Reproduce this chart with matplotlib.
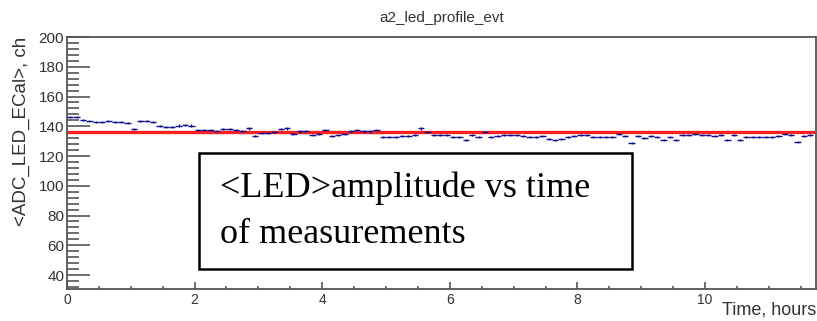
import numpy as np
import matplotlib.pyplot as plt
from matplotlib.patches import Rectangle
from matplotlib.ticker import MultipleLocator

# profile bins: 0.1 hour wide, mean LED amplitude per bin
bin_width = 0.1
led_mean = [
    146.0, 146.0, 144.0, 143.5, 143.0, 143.0, 143.5, 143.0, 143.0, 142.0,
    138.0, 143.5, 143.5, 143.0, 140.0, 139.5, 139.5, 140.5, 141.0, 140.5,
    137.5, 137.5, 137.5, 137.0, 138.0, 138.0, 137.5, 137.0, 138.5, 133.5,
    135.5, 135.5, 136.0, 138.0, 138.5, 134.5, 136.5, 137.0, 134.0, 134.5,
    137.5, 133.5, 134.0, 135.0, 136.5, 137.5, 136.5, 136.5, 137.5, 133.0,
    133.0, 133.0, 133.5, 133.5, 134.0, 138.5, 136.0, 134.0, 134.0, 134.0,
    133.0, 133.0, 131.0, 134.0, 133.0, 136.0, 133.0, 133.5, 134.0, 134.0,
    134.0, 133.5, 133.0, 133.0, 133.5, 131.5, 131.0, 131.5, 133.0, 133.5,
    134.0, 134.0, 133.0, 133.0, 133.0, 133.0, 134.5, 133.5, 129.0, 133.5,
    132.0, 133.5, 133.0, 131.0, 133.0, 131.0, 134.0, 134.0, 134.5, 134.0,
    134.0, 133.5, 134.0, 131.0, 134.0, 131.0, 133.0, 132.5, 132.5, 133.0,
    133.0, 133.5, 134.5, 134.0, 129.5, 133.5, 134.0,
]
led_err = 0.7
fit_level = 136.0
x_max = 11.74

t = (np.arange(len(led_mean)) + 0.5) * bin_width

fig = plt.figure(figsize=(8.17, 3.21), dpi=100)
ax = fig.add_axes([0.082, 0.0997, 0.9168, 0.785])

frame_col = '#555555'
for s in ax.spines.values():
    s.set_color(frame_col)
    s.set_linewidth(1.3)

ax.errorbar(t, led_mean, xerr=bin_width / 2, yerr=led_err, fmt='none',
            ecolor='#10108a', elinewidth=1.0, capsize=0, zorder=3)
ax.plot([0, t[-1] + bin_width / 2], [fit_level, fit_level], color='#ff2020', lw=2.4, zorder=2)

ax.set_xlim(0, x_max)
ax.set_ylim(30.6, 200)
ax.xaxis.set_major_locator(MultipleLocator(2))
ax.xaxis.set_minor_locator(MultipleLocator(0.5))
ax.yaxis.set_minor_locator(MultipleLocator(4))
ax.set_yticks([40, 60, 80, 100, 120, 140, 160, 180, 200])

ax.tick_params(axis='y', which='major', direction='in', length=16.5, width=1.2,
               color=frame_col, labelsize=11, labelcolor='#333333', pad=2)
ax.tick_params(axis='y', which='minor', direction='in', length=8.5, width=1.2, color=frame_col)
ax.tick_params(axis='x', which='major', direction='in', length=5, width=1.2,
               color=frame_col, labelsize=10, labelcolor='#333333', pad=3)
ax.tick_params(axis='x', which='minor', direction='in', length=2.5, width=1.2, color=frame_col)
for lab in ax.get_xticklabels() + ax.get_yticklabels():
    lab.set_family('Liberation Sans')

ax.set_title('a2_led_profile_evt', fontsize=11, family='Liberation Sans', color='#333333', pad=11)
ax.set_ylabel('<ADC_LED_ECal>, ch', fontsize=13.5, family='Liberation Sans', color='#333333',
              loc='top')
ax.yaxis.set_label_coords(-0.05, 1.0)
ax.set_xlabel('Time, hours', fontsize=13, family='Liberation Sans', color='#333333',
              loc='right')
ax.xaxis.set_label_coords(1.0, -0.05)

# annotation box
ax.add_patch(Rectangle((0.176, 0.079), 0.578, 0.461, transform=ax.transAxes,
                       facecolor='white', edgecolor='black', lw=1.8, zorder=4))
ax.text(0.204, 0.365, '<LED>amplitude vs time', transform=ax.transAxes,
        fontsize=26, family='Liberation Serif', va='baseline', ha='left', zorder=5)
ax.text(0.204, 0.1825, 'of measurements', transform=ax.transAxes,
        fontsize=26, family='Liberation Serif', va='baseline', ha='left', zorder=5)

fig.savefig('out.png', dpi=100)
